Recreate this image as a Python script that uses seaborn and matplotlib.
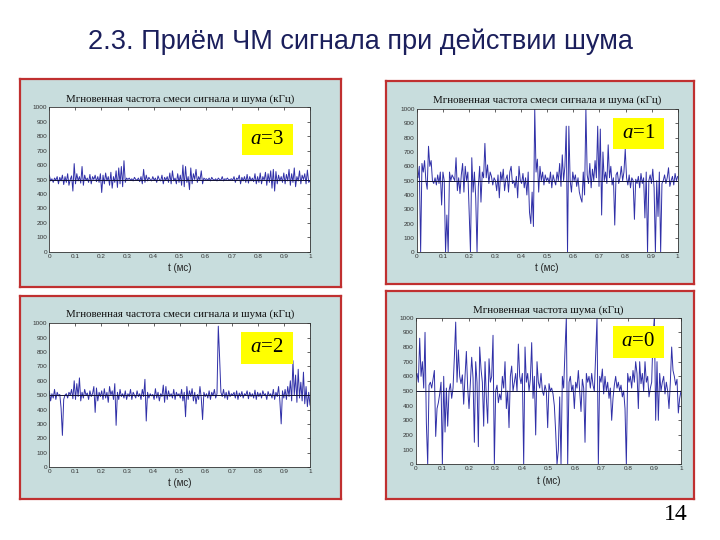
import numpy as np
import pandas as pd
import matplotlib
matplotlib.use('Agg')
import matplotlib.pyplot as plt
import seaborn as sns
from matplotlib.patches import Rectangle

sns.set_style('white')
plt.rcParams['font.family'] = ['Liberation Sans', 'DejaVu Sans']
plt.rcParams['mathtext.fontset'] = 'custom'
plt.rcParams['mathtext.it'] = 'Liberation Serif:italic'
plt.rcParams['mathtext.rm'] = 'Liberation Serif'

# ---------------- data (kHz), sampled every ~0.005 ms ----------------
CARRIER = 500

a3_vals = [
    530, 490, 505, 480, 510, 495, 520, 470, 515, 490, 530, 465, 520, 480, 540, 460, 500, 525, 420, 610,
    470, 540, 490, 520, 475, 590, 460, 530, 495, 510, 480, 535, 470, 520, 500, 530, 485, 520, 480, 540,
    410, 530, 470, 545, 490, 520, 460, 550, 440, 520, 480, 560, 445, 580, 470, 590, 450, 630, 480, 510,
    500, 510, 495, 505, 490, 515, 500, 495, 510, 485, 520, 470, 570, 480, 530, 490, 515, 500, 490, 520,
    495, 510, 480, 525, 500, 490, 530, 470, 515, 495, 520, 480, 545, 470, 560, 490, 510, 470, 540, 480,
    530, 460, 600, 450, 590, 480, 520, 430, 580, 470, 540, 500, 570, 480, 520, 495, 560, 470, 510, 500,
    505, 495, 510, 490, 515, 500, 495, 505, 490, 510, 500, 495, 520, 490, 505, 500, 510, 495, 500, 505,
    495, 520, 480, 510, 500, 530, 470, 515, 490, 520, 480, 535, 475, 520, 490, 510, 485, 540, 470, 520,
    480, 545, 470, 520, 495, 550, 460, 540, 480, 560, 440, 570, 420, 555, 470, 530, 490, 520, 480, 545,
    470, 535, 490, 570, 460, 540, 480, 580, 450, 520, 490, 560, 470, 530, 500, 540, 470, 565, 480, 490,
]

a2_vals = [
    530, 460, 510, 480, 540, 470, 520, 495, 505, 410, 220, 470, 500, 510, 480, 520, 500, 540, 475, 600,
    470, 580, 490, 620, 460, 520, 480, 540, 500, 515, 470, 530, 490, 510, 560, 380, 550, 460, 520, 490,
    530, 470, 545, 480, 520, 450, 560, 500, 530, 470, 580, 290, 520, 470, 540, 490, 510, 480, 530, 470,
    510, 490, 540, 470, 520, 500, 480, 530, 490, 510, 470, 540, 490, 610, 320, 520, 480, 510, 495, 505,
    470, 545, 480, 520, 460, 510, 490, 570, 450, 560, 470, 530, 490, 510, 480, 540, 470, 520, 495, 510,
    480, 540, 460, 520, 350, 560, 470, 530, 490, 545, 460, 520, 440, 505, 470, 560, 480, 330, 520, 490,
    510, 480, 530, 470, 520, 495, 540, 480, 510, 980, 760, 520, 490, 540, 480, 520, 470, 530, 490, 510,
    500, 520, 480, 530, 470, 515, 490, 525, 480, 510, 500, 530, 475, 520, 490, 510, 480, 535, 470, 520,
    490, 515, 480, 530, 500, 510, 470, 525, 495, 510, 480, 540, 470, 520, 490, 560, 460, 300, 530, 480,
    540, 470, 560, 490, 600, 460, 740, 500, 640, 450, 680, 480, 590, 460, 660, 440, 560, 420, 520, 430,
]

a1_vals = [
    530, 520, 600, 0, 620, 560, 640, 500, 440, 740, 600, 640, 500, 480, 520, 470, 540, 480, 560, 330,
    560, 500, 0, 260, 0, 560, 500, 540, 520, 500, 660, 430, 520, 410, 540, 620, 420, 600, 500, 560,
    270, 0, 660, 420, 560, 380, 0, 460, 600, 350, 560, 520, 760, 520, 610, 480, 560, 530, 470, 520,
    500, 430, 540, 380, 560, 500, 580, 430, 510, 540, 420, 560, 600, 480, 500, 450, 530, 380, 600, 500,
    480, 550, 450, 520, 400, 560, 280, 200, 420, 180, 1000, 560, 650, 420, 600, 500, 560, 470, 540, 500,
    520, 480, 560, 450, 540, 500, 470, 560, 500, 620, 460, 680, 500, 600, 880, 0, 880, 500, 420, 560,
    500, 540, 460, 520, 420, 380, 350, 560, 400, 1000, 540, 480, 620, 450, 580, 500, 640, 520, 880, 460,
    860, 260, 700, 500, 560, 480, 750, 520, 600, 470, 520, 190, 540, 560, 480, 520, 600, 500, 560, 720,
    520, 470, 540, 450, 520, 500, 230, 510, 480, 530, 450, 550, 480, 520, 240, 560, 0, 500, 540, 480,
    580, 450, 0, 500, 250, 560, 0, 480, 500, 540, 480, 520, 590, 460, 500, 530, 470, 550, 500, 530,
]

a0_vals = [
    600, 620, 560, 860, 600, 700, 520, 900, 280, 0, 540, 560, 520, 580, 640, 190, 380, 420, 480, 560,
    0, 600, 220, 520, 260, 500, 550, 450, 520, 730, 970, 560, 780, 600, 550, 610, 410, 600, 770, 520,
    380, 560, 730, 590, 150, 700, 560, 120, 800, 650, 560, 260, 700, 450, 280, 720, 560, 600, 880, 0,
    500, 540, 420, 480, 440, 600, 520, 700, 380, 500, 250, 600, 670, 500, 560, 620, 500, 820, 600, 550,
    620, 0, 800, 560, 620, 500, 580, 830, 450, 600, 200, 700, 560, 520, 620, 500, 470, 540, 500, 250,
    550, 500, 520, 480, 400, 220, 0, 100, 460, 0, 600, 520, 780, 1000, 0, 560, 600, 500, 540, 380,
    560, 520, 640, 500, 360, 580, 520, 150, 620, 560, 600, 520, 620, 540, 500, 760, 1000, 0, 600, 560,
    650, 480, 600, 500, 560, 450, 520, 300, 450, 540, 600, 520, 560, 500, 540, 460, 500, 380, 0, 620,
    560, 600, 520, 640, 560, 700, 620, 380, 700, 550, 620, 500, 700, 560, 600, 460, 520, 560, 870, 1000,
    300, 700, 300, 620, 500, 560, 600, 480, 560, 500, 380, 560, 800, 640, 600, 540, 580, 350, 450, 500,
]

x_ticks = [0, 0.1, 0.2, 0.3, 0.4, 0.5, 0.6, 0.7, 0.8, 0.9, 1]
x_ticklabels = ['0', '0.1', '0.2', '0.3', '0.4', '0.5', '0.6', '0.7', '0.8', '0.9', '1']
y_ticks = [0, 100, 200, 300, 400, 500, 600, 700, 800, 900, 1000]

title_mix = 'Мгновенная частота смеси сигнала и шума (кГц)'
title_noise = 'Мгновенная частота шума (кГц)'
x_label = 't (мс)'
slide_title = '2.3. Приём ЧМ сигнала при действии шума'
page_no = '14'

# ---------------- figure ----------------
W, H = 720, 540
fig = plt.figure(figsize=(W / 100, H / 100), dpi=100)
fig.patch.set_facecolor('white')

BG = '#c8dddd'
RED = '#c03030'
LINE = '#3030a8'


def fr(x0, y0, x1, y1):
    return [x0 / W, 1 - y1 / H, (x1 - x0) / W, (y1 - y0) / H]


def panel(frame, axbox, title, vals, alabel, box, title_y, xlabel_y):
    bg = fig.add_axes(fr(*frame))
    bg.set_facecolor(BG)
    bg.set_xticks([]); bg.set_yticks([])
    for s in bg.spines.values():
        s.set_color(RED); s.set_linewidth(1.6)

    ax = fig.add_axes(fr(*axbox))
    ax.set_facecolor('white')
    df = pd.DataFrame({'t': np.linspace(0, 1, len(vals)), 'f': vals})
    sns.lineplot(data=df, x='t', y='f', ax=ax, color=LINE, linewidth=0.7,
                 estimator=None, legend=False)
    ax.axhline(CARRIER, color='#111133', linewidth=0.7)
    ax.set_xlim(0, 1); ax.set_ylim(0, 1000)
    ax.set_xticks(x_ticks); ax.set_xticklabels(x_ticklabels)
    ax.set_yticks(y_ticks)
    ax.tick_params(direction='in', length=2, width=0.5, labelsize=4.6,
                   labelcolor='#333333', top=True, right=True, pad=1.5)
    ax.set_xlabel(''); ax.set_ylabel('')
    for s in ax.spines.values():
        s.set_color('#333333'); s.set_linewidth(0.6)

    cx = (axbox[0] + axbox[2]) / 2
    fig.text(cx / W, 1 - title_y / H, title, ha='center', va='center',
             fontsize=7.8, family='Liberation Serif', color='#111111')
    fig.text(cx / W, 1 - xlabel_y / H, x_label, ha='center', va='center',
             fontsize=7, color='#222222')

    bx0, by0, bx1, by1 = box
    rect = Rectangle((bx0 / W, 1 - by1 / H), (bx1 - bx0) / W, (by1 - by0) / H,
                     transform=fig.transFigure, facecolor='#ffff00',
                     edgecolor='none', zorder=5)
    fig.add_artist(rect)
    fig.text(((bx0 + bx1) / 2) / W, 1 - ((by0 + by1) / 2) / H,
             r'$\mathit{a}$=' + alabel, ha='center', va='center',
             fontsize=15, family='Liberation Serif', color='black', zorder=6)


panel((20, 79, 341, 287), (49.3, 107.3, 310, 251.7), title_mix, a3_vals, '3',
      (241.7, 124, 292.7, 155.3), 98.7, 268)
panel((386, 81, 694, 284), (416.7, 109, 677.7, 252.3), title_mix, a1_vals, '1',
      (612.7, 117.7, 663.7, 149.3), 100, 267.7)
panel((20, 296, 341, 499), (49.3, 323.3, 310, 467), title_mix, a2_vals, '2',
      (241, 331.7, 292.7, 363.7), 314.3, 483)
panel((386, 291, 694, 499), (415.7, 317.7, 681, 464.3), title_noise, a0_vals, '0',
      (612.7, 326, 663.7, 357.7), 310, 480.7)

fig.text(360 / W, 1 - 42 / H, slide_title, ha='center', va='center',
         fontsize=19.5, color='#1b1f5c')
fig.text(676 / W, 1 - 514 / H, page_no, ha='center', va='center',
         fontsize=17, family='Liberation Serif', color='black')

fig.savefig('out.png', dpi=100, facecolor='white')
